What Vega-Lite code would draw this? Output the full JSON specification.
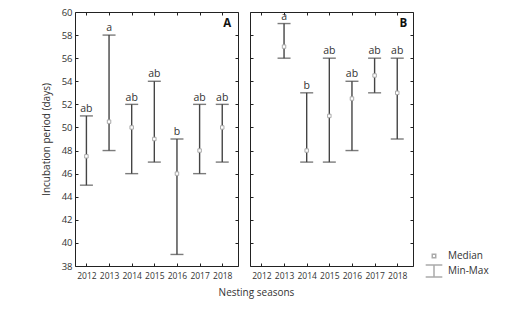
{
  "$schema": "https://vega.github.io/schema/vega-lite/v6.json",
  "padding": {"left": 40, "top": 6, "right": 5, "bottom": 5},
  "bounds": "flush",
  "config": {
    "font": "Open Sans",
    "view": {"stroke": "#222", "strokeWidth": 1},
    "axis": {"grid": false, "domain": false, "tickColor": "#222", "tickSize": -3, "labelColor": "#333", "labelFontSize": 9.5, "titleColor": "#333", "titleFontSize": 10, "titleFontWeight": "normal", "labelFont": "Open Sans", "titleFont": "Open Sans"}
  },
  "datasets": {
    "d": [
      {"panel": "A", "year": "2012", "min": 45, "max": 51, "median": 47.5, "group": "ab"},
      {"panel": "A", "year": "2013", "min": 48, "max": 58, "median": 50.5, "group": "a"},
      {"panel": "A", "year": "2014", "min": 46, "max": 52, "median": 50, "group": "ab"},
      {"panel": "A", "year": "2015", "min": 47, "max": 54, "median": 49, "group": "ab"},
      {"panel": "A", "year": "2016", "min": 39, "max": 49, "median": 46, "group": "b"},
      {"panel": "A", "year": "2017", "min": 46, "max": 52, "median": 48, "group": "ab"},
      {"panel": "A", "year": "2018", "min": 47, "max": 52, "median": 50, "group": "ab"},
      {"panel": "B", "year": "2013", "min": 56, "max": 59, "median": 57, "group": "a"},
      {"panel": "B", "year": "2014", "min": 47, "max": 53, "median": 48, "group": "b"},
      {"panel": "B", "year": "2015", "min": 47, "max": 56, "median": 51, "group": "ab"},
      {"panel": "B", "year": "2016", "min": 48, "max": 54, "median": 52.5, "group": "ab"},
      {"panel": "B", "year": "2017", "min": 53, "max": 56, "median": 54.5, "group": "ab"},
      {"panel": "B", "year": "2018", "min": 49, "max": 56, "median": 53, "group": "ab"}
    ]
  },
  "spacing": 12,
  "hconcat": [
    {
      "width": 163, "height": 254,
      "data": {"name": "d"},
      "transform": [{"filter": "datum.panel === 'A'"}],
      "encoding": {
        "x": {"field": "year", "type": "ordinal", "scale": {"type": "point", "domain": ["2012","2013","2014","2015","2016","2017","2018"], "padding": 0.6, "align": 0.42}, "axis": null}
      },
      "layer": [
        {"mark": {"type": "rule", "color": "#444", "strokeWidth": 1.4},
         "encoding": {
           "x": {"field": "year", "type": "ordinal", "axis": {"labelAngle": 0, "labelFontSize": 8.5, "title": "Nesting seasons", "titleX": 181, "titlePadding": 8, "labelPadding": 8}},
           "y": {"field": "min", "type": "quantitative", "scale": {"domain": [38, 60], "nice": false, "zero": false}, "axis": {"values": [38,40,42,44,46,48,50,52,54,56,58,60], "title": "Incubation period (days)", "labelPadding": 6, "titlePadding": 10}},
           "y2": {"field": "max"}}},
        {"mark": {"type": "tick", "color": "#444", "thickness": 1.4, "size": 13},
         "encoding": {
           "x": {"field": "year", "type": "ordinal", "axis": {"orient": "top", "labels": false, "title": null}},
           "y": {"field": "min", "type": "quantitative", "axis": {"orient": "right", "values": [38,40,42,44,46,48,50,52,54,56,58,60], "labels": false, "title": null}}}},
        {"mark": {"type": "tick", "color": "#444", "thickness": 1.4, "size": 13},
         "encoding": {"y": {"field": "max", "type": "quantitative", "axis": null}}},
        {"mark": {"type": "point", "shape": "square", "filled": true, "fill": "white", "stroke": "#aaa", "strokeWidth": 1, "size": 12, "opacity": 1},
         "encoding": {"y": {"field": "median", "type": "quantitative", "axis": null},
           "shape": {"datum": "Median", "type": "nominal", "scale": {"domain": ["Median", "Min-Max"], "range": ["square", "M-4.8,-3.4H4.8M0,-3.4V3.4M-4.8,3.4H4.8"]},
             "legend": {"title": null, "orient": "none", "legendX": 354, "legendY": 239, "symbolSize": 12, "labelFontSize": 10, "labelColor": "#333", "labelFont": "Open Sans", "rowPadding": 1, "labelOffset": 9,
               "encode": {"symbols": {"update": {
                 "stroke": [{"test": "datum.value === 'Median'", "value": "#bbb"}, {"value": "#333"}],
                 "strokeWidth": {"value": 1.2},
                 "fill": {"value": "white"},
                 "opacity": {"value": 1}}}}}}}},
        {"mark": {"type": "text", "dy": -3.8, "fontSize": 10.5, "fill": "#333", "baseline": "alphabetic"},
         "encoding": {"y": {"field": "max", "type": "quantitative", "axis": null}, "text": {"field": "group"}}},
        {"data": {"values": [{"label": "A"}]},
         "mark": {"type": "text", "fontSize": 11.5, "fontWeight": "bold", "fill": "#111", "dx": 5, "baseline": "middle"},
         "encoding": {"x": {"datum": "2018", "type": "ordinal", "axis": null}, "y": {"datum": 59, "type": "quantitative", "axis": null}, "text": {"field": "label"}}}
      ],
      "resolve": {"axis": {"x": "independent", "y": "independent"}}
    },
    {
      "width": 163, "height": 254,
      "data": {"name": "d"},
      "transform": [{"filter": "datum.panel === 'B'"}],
      "encoding": {
        "x": {"field": "year", "type": "ordinal", "scale": {"type": "point", "domain": ["2012","2013","2014","2015","2016","2017","2018"], "padding": 0.6, "align": 0.42}, "axis": null}
      },
      "layer": [
        {"mark": {"type": "rule", "color": "#444", "strokeWidth": 1.4},
         "encoding": {
           "x": {"field": "year", "type": "ordinal", "axis": {"labelAngle": 0, "labelFontSize": 8.5, "title": null, "labelPadding": 8}},
           "y": {"field": "min", "type": "quantitative", "scale": {"domain": [38, 60], "nice": false, "zero": false}, "axis": {"values": [38,40,42,44,46,48,50,52,54,56,58,60], "labels": false, "title": null}},
           "y2": {"field": "max"}}},
        {"mark": {"type": "tick", "color": "#444", "thickness": 1.4, "size": 13},
         "encoding": {
           "x": {"field": "year", "type": "ordinal", "axis": {"orient": "top", "labels": false, "title": null}},
           "y": {"field": "min", "type": "quantitative", "axis": {"orient": "right", "values": [38,40,42,44,46,48,50,52,54,56,58,60], "labels": false, "title": null}}}},
        {"mark": {"type": "tick", "color": "#444", "thickness": 1.4, "size": 13},
         "encoding": {"y": {"field": "max", "type": "quantitative", "axis": null}}},
        {"mark": {"type": "point", "shape": "square", "filled": true, "fill": "white", "stroke": "#aaa", "strokeWidth": 1, "size": 12, "opacity": 1},
         "encoding": {"y": {"field": "median", "type": "quantitative", "axis": null}}},
        {"mark": {"type": "text", "dy": -3.8, "fontSize": 10.5, "fill": "#333", "baseline": "alphabetic"},
         "encoding": {"y": {"field": "max", "type": "quantitative", "axis": null}, "text": {"field": "group"}}},
        {"data": {"values": [{"label": "B"}]},
         "mark": {"type": "text", "fontSize": 11.5, "fontWeight": "bold", "fill": "#111", "dx": 6, "baseline": "middle"},
         "encoding": {"x": {"datum": "2018", "type": "ordinal", "axis": null}, "y": {"datum": 59, "type": "quantitative", "axis": null}, "text": {"field": "label"}}}
      ],
      "resolve": {"axis": {"x": "independent", "y": "independent"}}
    }
  ]
}
